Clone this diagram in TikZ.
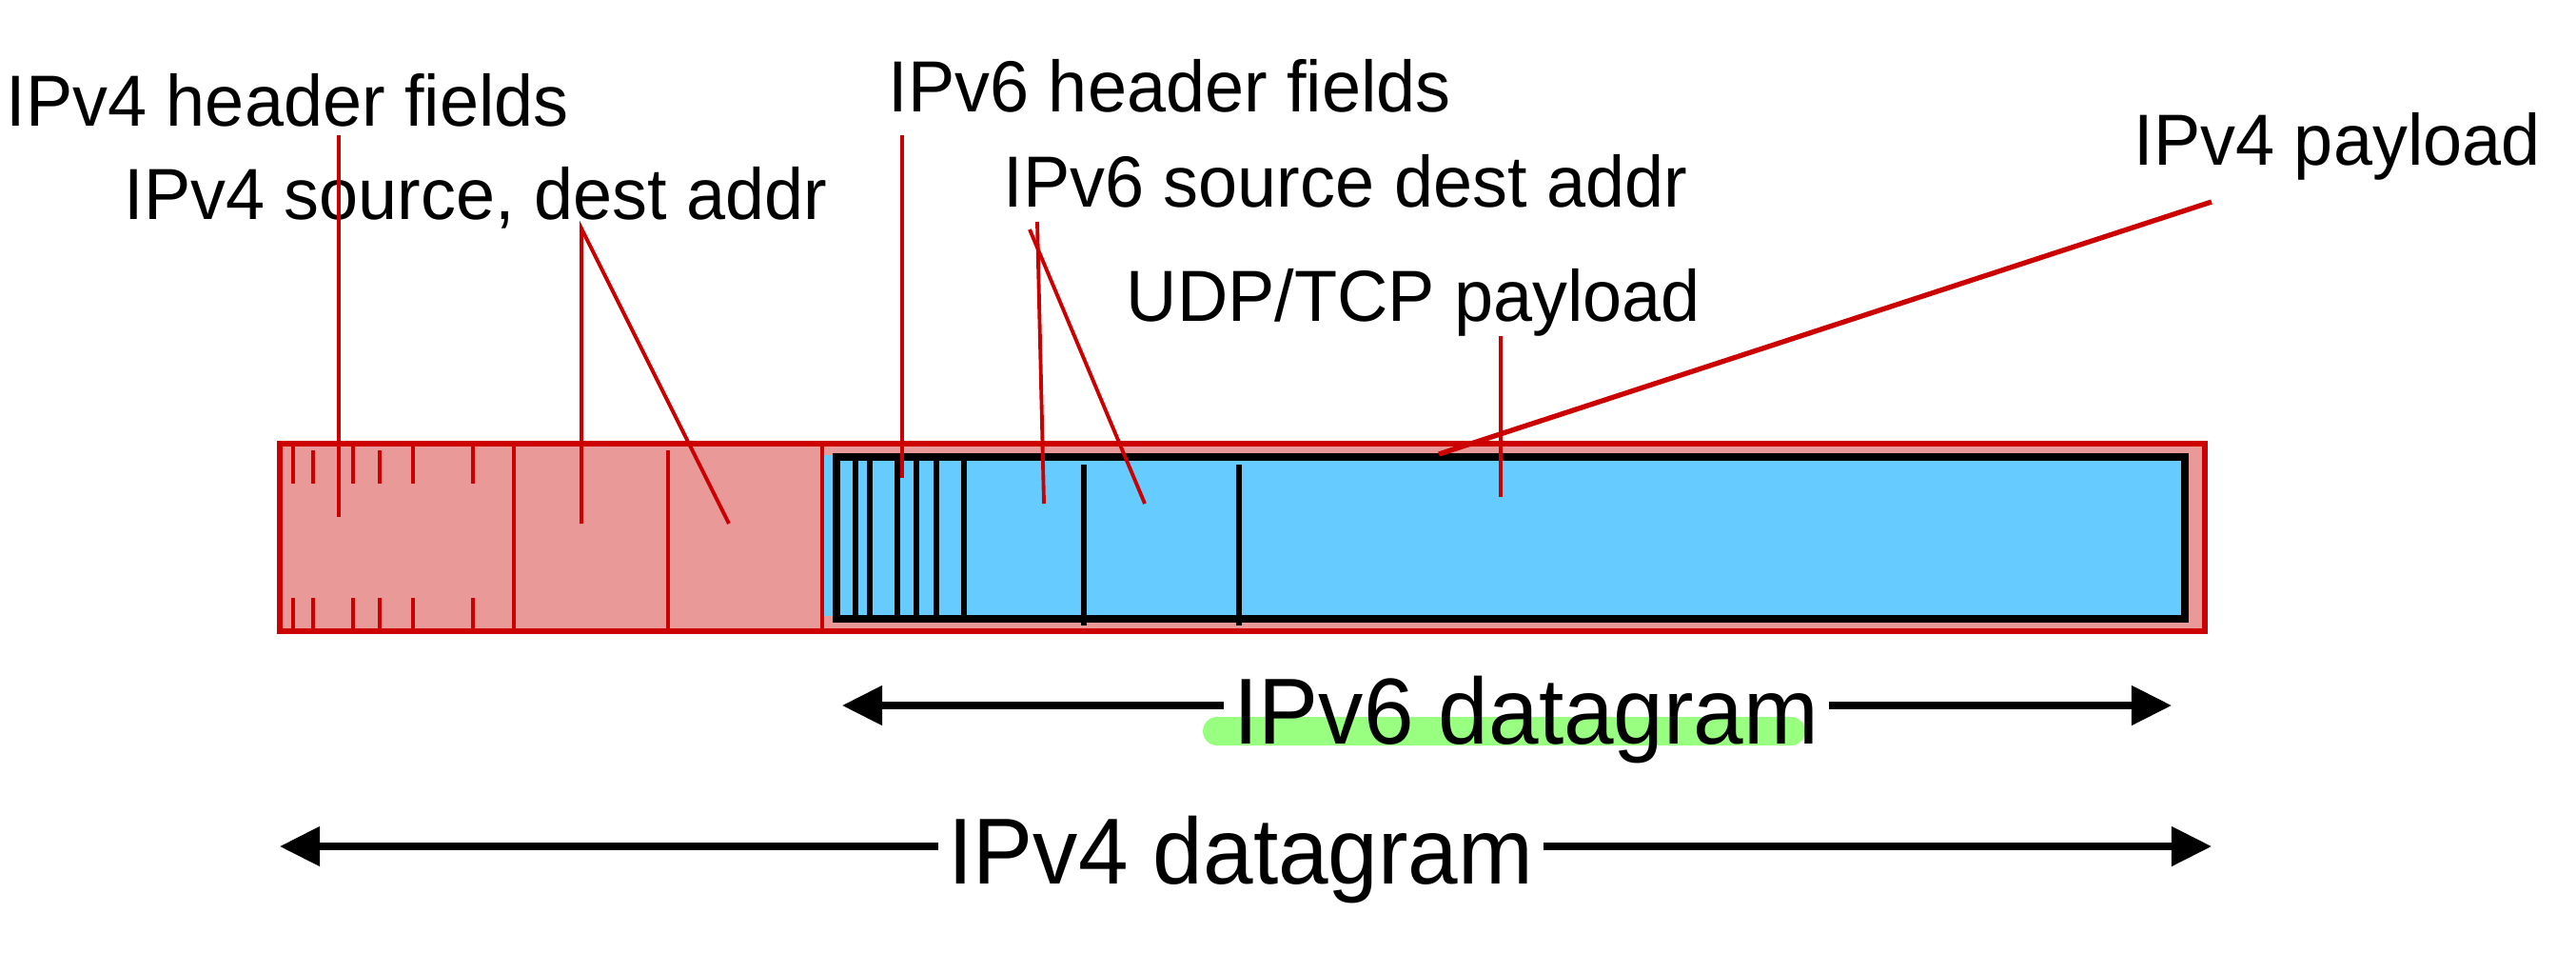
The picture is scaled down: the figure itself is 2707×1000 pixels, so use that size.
\documentclass[tikz,border=0pt]{standalone}
\usepackage{fontspec}
\setmainfont{Liberation Sans}
\usetikzlibrary{arrows.meta}
\definecolor{hdrred}{HTML}{CC0000}
\definecolor{hdrpink}{HTML}{EA9999}
\definecolor{payblue}{HTML}{66CCFF}
\definecolor{hilite}{HTML}{99FF80}

\begin{document}
\begin{tikzpicture}[x=0.01cm, y=-0.01cm,
  lbl/.style={anchor=base west, inner sep=0pt, yscale=1.03, font=\fontsize{21}{25}\selectfont},
  biglbl/.style={anchor=base, inner ysep=0pt, inner xsep=3pt, xscale=0.96,
    font=\fontsize{28}{34}\selectfont},
  lead/.style={hdrred, line width=1.1pt},
  redline/.style={hdrred, line width=1.4pt},
  dgarrow/.style={line width=2pt, -{Triangle[length=12pt,width=11.5pt]}}]
  \useasboundingbox (0,0) rectangle (2707,1000);

  % IPv4 datagram with the IPv6 datagram inside
  \draw[redline, fill=hdrpink, line width=1.5pt] (294,466) rectangle (2317,663);
  \fill[payblue] (866,478) rectangle (900,647);
  \draw[fill=payblue, line width=2.3pt] (879,480) rectangle (2296,650);
  \foreach \x in {540,864}
    \draw[redline] (\x,466) -- (\x,663);
  \draw[redline] (702,473) -- (702,663);
  \foreach \x in {308,371,434,497}
    \draw[redline] (\x,466) -- (\x,508);
  \foreach \x in {329,399}
    \draw[redline] (\x,473) -- (\x,508);
  \foreach \x in {308,329,371,399,434,497}
    \draw[redline] (\x,628) -- (\x,663);
  \foreach \x in {899,914,943,963,984,1013}
    \draw[line width=1.5pt] (\x,480) -- (\x,650);
  \foreach \x in {1139,1302}
    \draw[line width=1.5pt] (\x,488) -- (\x,657);

  % labels
  \node[lbl] (v4hdr) at (6,132) {IPv4 header fields};
  \node[lbl] (v4addr) at (130,230) {IPv4 source, dest addr};
  \node[lbl] (v6hdr) at (933,117) {IPv6 header fields};
  \node[lbl] (v6addr) at (1054,217) {IPv6 source dest addr};
  \node[lbl] (udptcp) at (1183,337) {UDP/TCP payload};
  \node[lbl] (v4pay) at (2242,173) {IPv4 payload};

  % leader lines
  \coordinate (v4hdr-a) at (356,142);   \coordinate (v4hdr-b) at (356,543);
  \coordinate (v4addr-a) at (611,240);  \coordinate (v4addr-b) at (611,550);
  \coordinate (v4addr-c) at (766,550);
  \coordinate (v6hdr-a) at (948,142);   \coordinate (v6hdr-b) at (948,502);
  \coordinate (v6addr-a) at (1090,233); \coordinate (v6addr-b) at (1097,529);
  \coordinate (v6addr-c) at (1082,241); \coordinate (v6addr-d) at (1203,529);
  \coordinate (udptcp-a) at (1577,353); \coordinate (udptcp-b) at (1577,522);
  \coordinate (v4pay-a) at (2324,212);  \coordinate (v4pay-b) at (1512,477);
  \draw[lead] (v4hdr-a) -- (v4hdr-b);
  \draw[lead] (v4addr-b) -- (v4addr-a) -- (v4addr-c);
  \draw[lead] (v6hdr-a) -- (v6hdr-b);
  \draw[lead] (v6addr-a) -- (v6addr-b);
  \draw[lead] (v6addr-c) -- (v6addr-d);
  \draw[lead] (udptcp-a) -- (udptcp-b);
  \draw[lead, line width=1.5pt] (v4pay-a) -- (v4pay-b);

  % datagram extents
  \fill[hilite, rounded corners=0.15cm] (1264,753) rectangle (1897,783);
  \node[biglbl] (v6dg) at (1604,781) {IPv6 datagram};
  \node[biglbl] (v4dg) at (1304,928) {IPv4 datagram};
  \coordinate (v6dg-l) at (885,741);  \coordinate (v6dg-r) at (2282,741);
  \coordinate (v4dg-l) at (294,889);  \coordinate (v4dg-r) at (2324,889);
  \draw[dgarrow] (v6dg.west |- v6dg-l) -- (v6dg-l);
  \draw[dgarrow] (v6dg.east |- v6dg-r) -- (v6dg-r);
  \draw[dgarrow] (v4dg.west |- v4dg-l) -- (v4dg-l);
  \draw[dgarrow] (v4dg.east |- v4dg-r) -- (v4dg-r);
\end{tikzpicture}
\end{document}
